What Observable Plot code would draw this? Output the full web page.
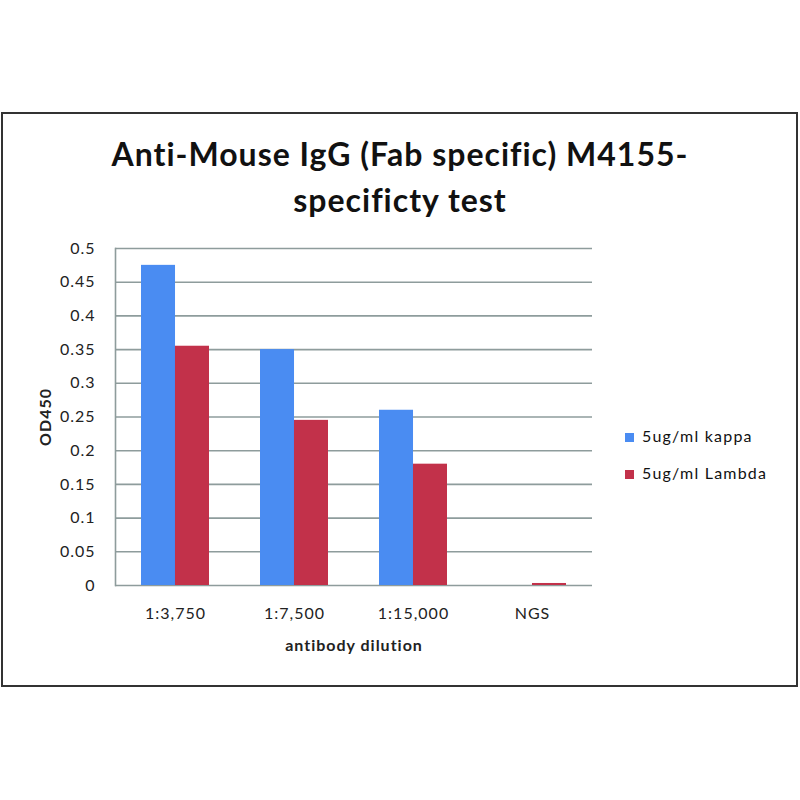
<!DOCTYPE html>
<html>
<head>
<meta charset="utf-8">
<script src="https://cdn.jsdelivr.net/npm/d3@7"></script>
<script src="https://cdn.jsdelivr.net/npm/@observablehq/plot@0.6"></script>
<style>
  html, body { margin: 0; padding: 0; background: #fff; }
  #wrap { position: relative; width: 800px; height: 800px; overflow: hidden; font-family: Lato, "Open Sans", sans-serif; }
  #border { position: absolute; left: 1px; top: 112px; width: 793px; height: 571px; border: 2px solid #333; }
  #chart { position: absolute; left: 0; top: 0; }
  .title { position: absolute; left: 0; width: 800px; text-align: center; font-weight: bold; font-size: 32px; line-height: 32px; letter-spacing: 1px; color: #111; white-space: nowrap; }
  .legend { position: absolute; left: 625px; font-size: 16px; line-height: 18px; letter-spacing: 1.2px; color: #111; white-space: nowrap; }
  .legend span.sw { display: inline-block; width: 9px; height: 9px; margin-right: 8px; }
  #chart svg text { letter-spacing: 1px; }
  g[aria-label="y-axis label"] text, g[aria-label="x-axis label"] text { font-weight: bold; letter-spacing: 1.3px; }
</style>
</head>
<body>
<div id="wrap">
  <div id="border"></div>
  <div id="chart"></div>
  <div class="title" id="t1" style="top:138px;"></div>
  <div class="title" id="t2" style="top:184px;"></div>
  <div id="legend"></div>
</div>
<script>
const titleLines = ["Anti-Mouse IgG (Fab specific) M4155-", "specificty test"];
const dilutions = ["1:3,750", "1:7,500", "1:15,000", "NGS"];
const seriesNames = ["5ug/ml kappa", "5ug/ml Lambda"];
const kappaValues = [0.475, 0.35, 0.26, 0.0];
const lambdaValues = [0.355, 0.245, 0.18, 0.003];
const yTicks = [0, 0.05, 0.1, 0.15, 0.2, 0.25, 0.3, 0.35, 0.4, 0.45, 0.5];
const colors = ["#4a8cf2", "#c2314a"];
const yLabel = "OD450";
const xLabel = "antibody dilution";

document.getElementById("t1").textContent = titleLines[0];
document.getElementById("t2").textContent = titleLines[1];

const kappa = dilutions.map((d, i) => ({dilution: d, value: kappaValues[i]}));
const lambda = dilutions.map((d, i) => ({dilution: d, value: lambdaValues[i]}));

const width = 800, height = 800;
const mL = 115, mR = 208, mT = 248, mB = 215;
const pInner = 0.43;
const step = (width - mL - mR) / dilutions.length;
const half = step * (1 - pInner) / 2;

const chart = Plot.plot({
  width, height,
  marginLeft: mL, marginRight: mR, marginTop: mT, marginBottom: mB,
  style: {fontFamily: "Lato, 'Open Sans', sans-serif", fontSize: "16px", color: "#222", background: "transparent"},
  x: {domain: dilutions, paddingInner: pInner, paddingOuter: pInner / 2},
  y: {domain: [0, 0.5]},
  marks: [
    Plot.gridY(yTicks, {stroke: "#8e9c9c", strokeOpacity: 1, strokeWidth: 1.6}),
    Plot.frame({anchor: "left", stroke: "#8e9c9c", strokeWidth: 1.6}),
    Plot.barY(kappa, {x: "dilution", y: "value", fill: colors[0], insetRight: half}),
    Plot.barY(lambda, {x: "dilution", y: "value", fill: colors[1], insetLeft: half}),
    Plot.axisY(yTicks, {tickSize: 0, tickPadding: 20, tickFormat: d => String(+d.toFixed(2)),
      label: yLabel, labelAnchor: "center", labelOffset: 76, labelArrow: "none"}),
    Plot.axisX({tickSize: 0, tickPadding: 22, label: xLabel, labelAnchor: "center", labelOffset: 65, labelArrow: "none"})
  ]
});
document.getElementById("chart").appendChild(chart);

const legend = document.getElementById("legend");
seriesNames.forEach((name, i) => {
  const div = document.createElement("div");
  div.className = "legend";
  div.style.top = (427 + i * 37) + "px";
  div.innerHTML = `<span class="sw" style="background:${colors[i]}"></span>`;
  div.appendChild(document.createTextNode(name));
  legend.appendChild(div);
});
</script>
</body>
</html>
